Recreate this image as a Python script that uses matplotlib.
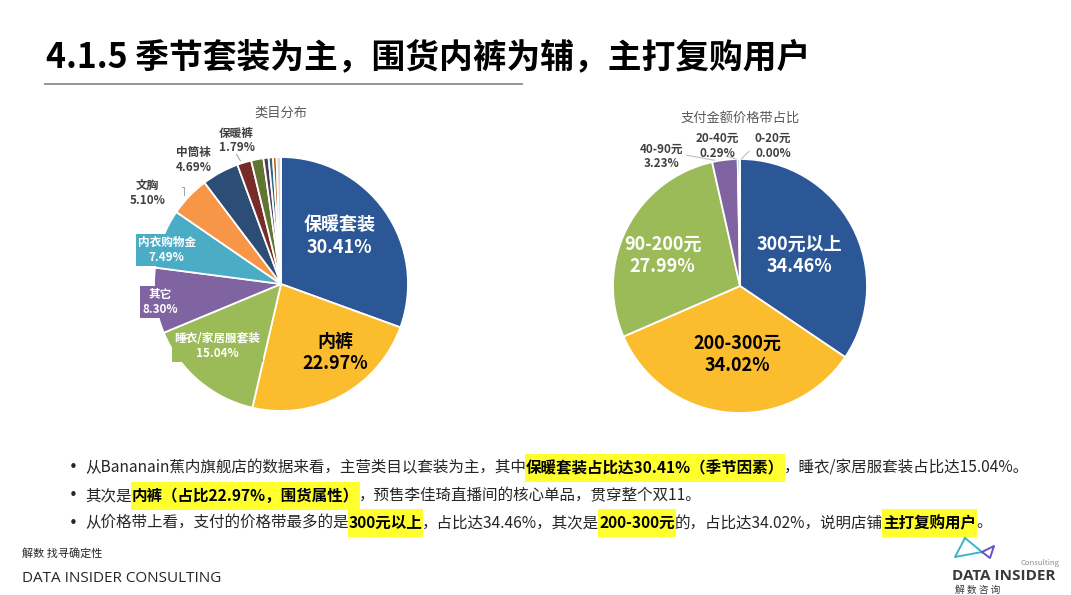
import matplotlib
matplotlib.use("Agg")
import matplotlib.pyplot as plt
from matplotlib.patches import Rectangle
from matplotlib.lines import Line2D

plt.rcParams["font.family"] = ["Noto Sans CJK SC", "DejaVu Sans"]

W, H = 1071, 595

# category share (left pie)
cat_names = ["保暖套装", "内裤", "睡衣/家居服套装", "其它", "内衣购物金", "文胸", "中筒袜",
             "保暖裤", "", "", "", "", ""]
cat_values = [30.41, 22.97, 15.04, 8.30, 7.49, 5.10, 4.69, 1.79, 1.55, 0.65, 0.55, 0.45, 0.56]
cat_colors = ["#2B5797", "#FBBD2E", "#9BBB59", "#8064A2", "#4BACC6", "#F79646", "#2C4D75",
              "#772C2A", "#5F7530", "#4D3B62", "#276A7C", "#B65708", "#D9D9D9"]

# price band share (right pie)
price_names = ["300元以上", "200-300元", "90-200元", "40-90元", "20-40元", "0-20元"]
price_values = [34.46, 34.02, 27.99, 3.23, 0.29, 0.00]
price_colors = ["#2B5797", "#FBBD2E", "#9BBB59", "#8064A2", "#4BACC6", "#DCE6F2"]

fig = plt.figure(figsize=(W / 100, H / 100), dpi=100)
fig.patch.set_facecolor("white")


def fx(x):
    return x / W


def fy(y):
    return 1 - y / H


def pie_axes(cx, cy, r):
    ax = fig.add_axes([fx(cx - r), fy(cy + r), 2 * r / W, 2 * r / H])
    ax.set_xlim(-1, 1)
    ax.set_ylim(-1, 1)
    ax.axis("off")
    return ax


# title
fig.text(fx(46), fy(57), "4.1.5 季节套装为主，围货内裤为辅，主打复购用户", fontsize=24.3,
         fontweight="bold", color="black", va="center")
fig.add_artist(Line2D([fx(45), fx(522)], [fy(84), fy(84)], color="#8C8C8C", lw=1.3))

# ---- left pie
ax1 = pie_axes(281, 284, 127)
ax1.pie(cat_values, colors=cat_colors, startangle=90, counterclock=False, radius=1,
        wedgeprops=dict(edgecolor="white", linewidth=1.3))
ax1.set_xlim(-1, 1)
ax1.set_ylim(-1, 1)
fig.text(fx(281), fy(113), "类目分布", fontsize=9.5, color="#595959", ha="center", va="center")

left_pos = [(0.46, 0.38), (0.43, -0.54), (-0.50, -0.49), (-0.95, -0.14), (-0.90, 0.27),
            (-1.05, 0.72), (-0.69, 0.98), (-0.35, 1.13)]
for i, (dx, dy) in enumerate(left_pos):
    txt = f"{cat_names[i]}\n{cat_values[i]:.2f}%"
    if i == 0:
        ax1.text(dx, dy, txt, ha="center", va="center", fontsize=13, fontweight="bold",
                 color="white", linespacing=1.25)
    elif i == 1:
        ax1.text(dx, dy, txt, ha="center", va="center", fontsize=13, fontweight="bold",
                 color="black", linespacing=1.25)
    elif i in (2, 3, 4):
        ax1.text(dx, dy, txt, ha="center", va="center", fontsize=8.4, fontweight="bold",
                 color="white", linespacing=1.2, clip_on=False,
                 bbox=dict(facecolor=cat_colors[i], edgecolor="none", pad=1.5))
    else:
        ax1.text(dx, dy, txt, ha="center", va="center", fontsize=8.4, fontweight="bold",
                 color="#404040", linespacing=1.2, clip_on=False)
ax1.plot([-0.35, -0.32], [1.02, 0.97], color="#A6A6A6", lw=0.8, clip_on=False)
ax1.plot([-0.78, -0.76, -0.76], [0.76, 0.76, 0.70], color="#A6A6A6", lw=0.8, clip_on=False)

# ---- right pie
ax2 = pie_axes(740, 286, 127)
ax2.pie(price_values, colors=price_colors, startangle=90, counterclock=False, radius=1,
        wedgeprops=dict(edgecolor="white", linewidth=1.3))
ax2.set_xlim(-1, 1)
ax2.set_ylim(-1, 1)
fig.text(fx(740), fy(118), "支付金额价格带占比", fontsize=9.5, color="#595959", ha="center",
         va="center")

right_pos = [(0.47, 0.24), (-0.02, -0.54), (-0.61, 0.24), (-0.62, 1.02), (-0.18, 1.10),
             (0.26, 1.10)]
for i, (dx, dy) in enumerate(right_pos):
    txt = f"{price_names[i]}\n{price_values[i]:.2f}%"
    if i in (0, 2):
        ax2.text(dx, dy, txt, ha="center", va="center", fontsize=13, fontweight="bold",
                 color="white", linespacing=1.25)
    elif i == 1:
        ax2.text(dx, dy, txt, ha="center", va="center", fontsize=13, fontweight="bold",
                 color="black", linespacing=1.25)
    else:
        ax2.text(dx, dy, txt, ha="center", va="center", fontsize=8.4, fontweight="bold",
                 color="#404040", linespacing=1.2, clip_on=False)
ax2.plot([-0.42, -0.20], [1.03, 0.99], color="#BFBFBF", lw=0.8, clip_on=False)
ax2.plot([-0.10, -0.03], [1.02, 1.00], color="#BFBFBF", lw=0.8, clip_on=False)
ax2.plot([0.07, 0.01], [1.06, 1.00], color="#BFBFBF", lw=0.8, clip_on=False)

# ---- bullet text with highlighted runs
renderer = fig.canvas.get_renderer()
bullet_lines = [
    [("从Bananain蕉内旗舰店的数据来看，主营类目以套装为主，其中", False),
     ("保暖套装占比达30.41%（季节因素）", True),
     ("，睡衣/家居服套装占比达15.04%。", False)],
    [("其次是", False), ("内裤（占比22.97%，围货属性）", True),
     ("，预售李佳琦直播间的核心单品，贯穿整个双11。", False)],
    [("从价格带上看，支付的价格带最多的是", False), ("300元以上", True),
     ("，占比达34.46%，其次是", False), ("200-300元", True),
     ("的，占比达34.02%，说明店铺", False), ("主打复购用户", True), ("。", False)],
]
line_y = [468, 496, 523]
for y, runs in zip(line_y, bullet_lines):
    fig.text(fx(69), fy(y), "•", fontsize=11, color="#262626", va="center",
             family="DejaVu Sans")
    x = 85
    for s, hl in runs:
        t = fig.text(fx(x), fy(y), s, fontsize=11.2, va="center", color="black" if hl else "#262626",
                     fontweight="bold" if hl else "normal", zorder=3)
        w = t.get_window_extent(renderer).width
        if hl:
            fig.add_artist(Rectangle((fx(x - 1), fy(y + 14)), (w + 2) / W, 28 / H,
                                     facecolor="#FFFF2E", edgecolor="none", zorder=1))
        x += w

# ---- footer
fig.text(fx(22), fy(553), "解数 找寻确定性", fontsize=8, color="#262626", va="center")
fig.text(fx(22), fy(578), "DATA INSIDER CONSULTING", fontsize=11, color="#262626", va="center",
         family=["Open Sans", "DejaVu Sans"])

# logo
fig.add_artist(Line2D([fx(965), fx(955), fx(982), fx(965)], [fy(538), fy(557), fy(552), fy(538)],
                      color="#3BB5C3", lw=1.4))
fig.add_artist(Line2D([fx(982), fx(994), fx(990), fx(982)], [fy(552), fy(546), fy(558), fy(552)],
                      color="#6A4FC8", lw=1.4))
fig.text(fx(1004), fy(576), "DATA INSIDER", fontsize=11, fontweight="bold", color="#3A3A3A",
         ha="center", va="center", family=["Open Sans", "DejaVu Sans"])
fig.text(fx(1040), fy(563), "Consulting", fontsize=5.5, color="#8C8C8C", ha="center", va="center")
fig.text(fx(955), fy(590), "解 数 咨 询", fontsize=7, color="#3A3A3A", va="center")

fig.savefig("out.png", dpi=100, facecolor="white")
